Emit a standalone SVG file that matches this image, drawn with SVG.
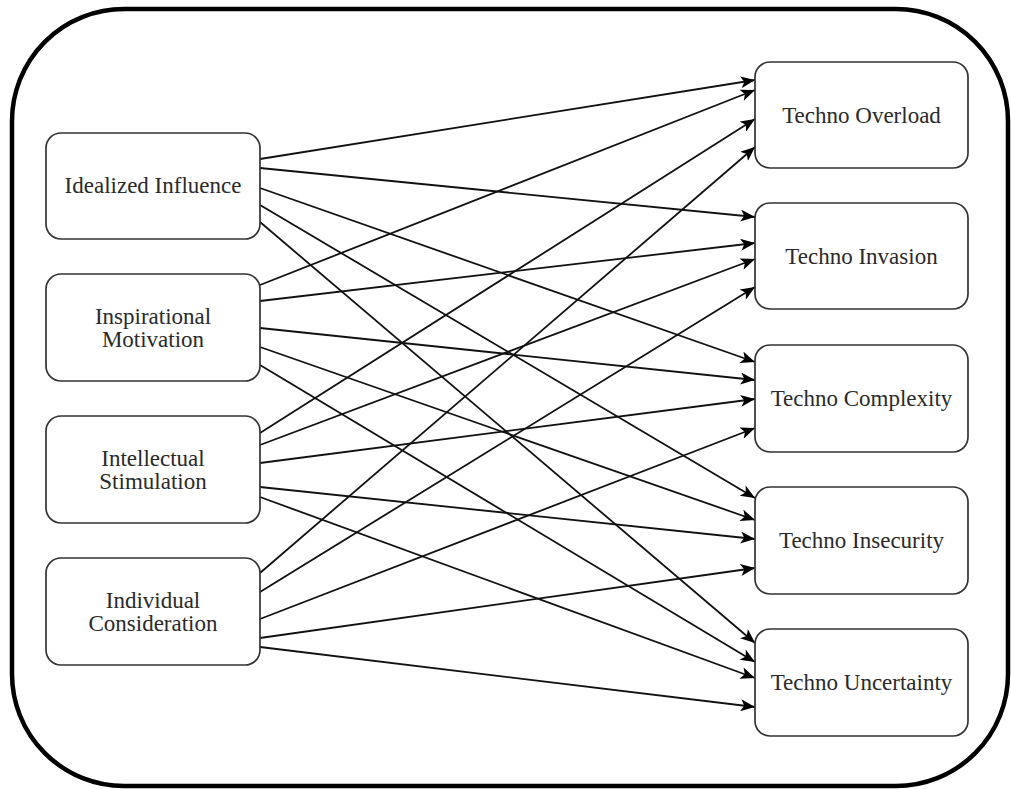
<svg xmlns="http://www.w3.org/2000/svg" width="1011" height="789" viewBox="0 0 1011 789">
<style>
.frame{fill:#fff;stroke:#000;stroke-width:4.5}
.node{fill:#fff;stroke:#333;stroke-width:1.7}
.lbl{font-family:"Liberation Serif","Times New Roman",serif;font-size:23px;fill:#2a2a2a;text-anchor:middle}
.edge{stroke:#111;stroke-width:1.8;fill:none;marker-end:url(#arr)}
</style>
<defs>
<marker id="arr" viewBox="0 0 12 10" refX="12" refY="5" markerWidth="15" markerHeight="12" markerUnits="userSpaceOnUse" orient="auto">
<path d="M0,0 L12,5 L0,10 L3,5 Z" fill="#000"/>
</marker>
</defs>
<rect width="1011" height="789" fill="#fff"/>
<rect class="frame" x="12" y="9" width="996" height="777" rx="112" ry="112"/>
<g id="connectors">
<line class="edge" x1="260" y1="159" x2="755" y2="80"/>
<line class="edge" x1="260" y1="168" x2="755" y2="217"/>
<line class="edge" x1="260" y1="188" x2="755" y2="362"/>
<line class="edge" x1="260" y1="205" x2="755" y2="498"/>
<line class="edge" x1="260" y1="222" x2="755" y2="643"/>
<line class="edge" x1="260" y1="285" x2="755" y2="90"/>
<line class="edge" x1="260" y1="301" x2="755" y2="243"/>
<line class="edge" x1="260" y1="328" x2="755" y2="380"/>
<line class="edge" x1="260" y1="347" x2="755" y2="520"/>
<line class="edge" x1="260" y1="365" x2="755" y2="662"/>
<line class="edge" x1="260" y1="433" x2="755" y2="119"/>
<line class="edge" x1="260" y1="445" x2="755" y2="259"/>
<line class="edge" x1="260" y1="463" x2="755" y2="399"/>
<line class="edge" x1="260" y1="487" x2="755" y2="539"/>
<line class="edge" x1="260" y1="497" x2="755" y2="678"/>
<line class="edge" x1="260" y1="573" x2="755" y2="147"/>
<line class="edge" x1="260" y1="592" x2="755" y2="287"/>
<line class="edge" x1="260" y1="619" x2="755" y2="428"/>
<line class="edge" x1="260" y1="638" x2="755" y2="568"/>
<line class="edge" x1="260" y1="647" x2="755" y2="707"/>
</g>
<g id="idealized-influence">
<rect class="node" x="46" y="133" width="214" height="106" rx="15"/>
<text class="lbl" x="153" y="193">Idealized Influence</text>
</g>
<g id="inspirational-motivation">
<rect class="node" x="46" y="274" width="214" height="107" rx="15"/>
<text class="lbl" x="153" y="324">Inspirational</text>
<text class="lbl" x="153" y="347">Motivation</text>
</g>
<g id="intellectual-stimulation">
<rect class="node" x="46" y="416" width="214" height="107" rx="15"/>
<text class="lbl" x="153" y="466">Intellectual</text>
<text class="lbl" x="153" y="489">Stimulation</text>
</g>
<g id="individual-consideration">
<rect class="node" x="46" y="558" width="214" height="107" rx="15"/>
<text class="lbl" x="153" y="608">Individual</text>
<text class="lbl" x="153" y="631">Consideration</text>
</g>
<g id="techno-overload">
<rect class="node" x="755" y="62" width="213" height="106" rx="15"/>
<text class="lbl" x="861.5" y="123">Techno Overload</text>
</g>
<g id="techno-invasion">
<rect class="node" x="755" y="203" width="213" height="106" rx="15"/>
<text class="lbl" x="861.5" y="264">Techno Invasion</text>
</g>
<g id="techno-complexity">
<rect class="node" x="755" y="345" width="213" height="107" rx="15"/>
<text class="lbl" x="861.5" y="406">Techno Complexity</text>
</g>
<g id="techno-insecurity">
<rect class="node" x="755" y="487" width="213" height="107" rx="15"/>
<text class="lbl" x="861.5" y="548">Techno Insecurity</text>
</g>
<g id="techno-uncertainty">
<rect class="node" x="755" y="629" width="213" height="107" rx="15"/>
<text class="lbl" x="861.5" y="690">Techno Uncertainty</text>
</g>
</svg>
